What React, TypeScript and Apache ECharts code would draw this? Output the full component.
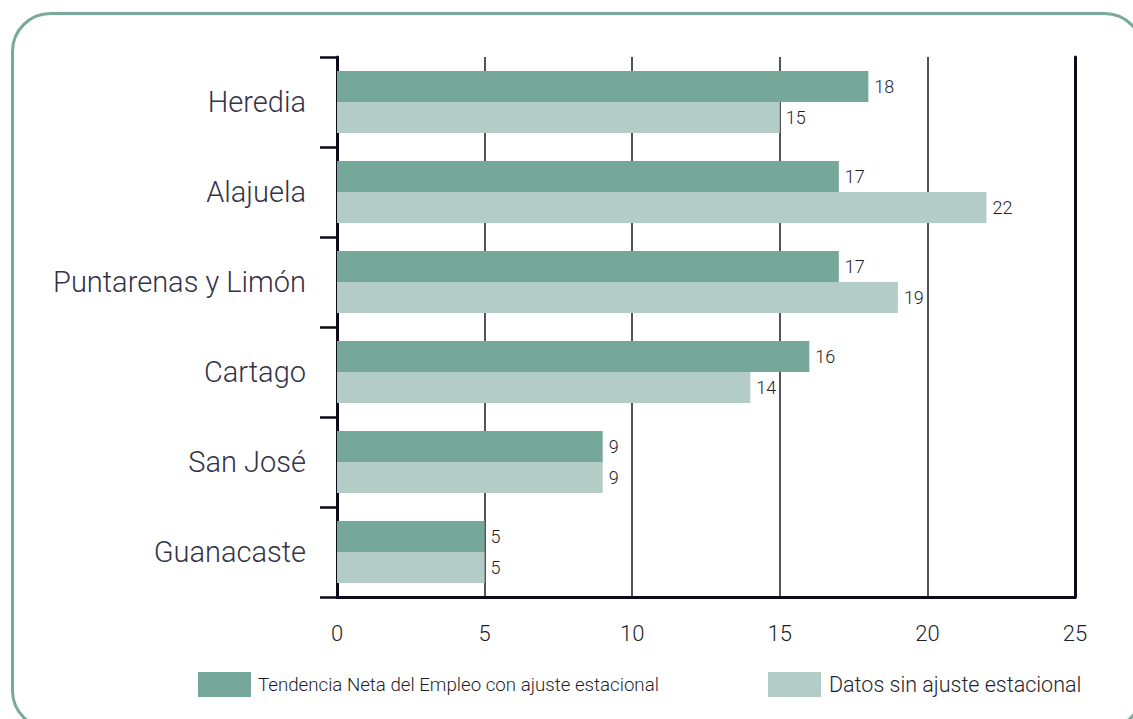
import React, { useEffect, useRef } from "react";
import * as echarts from "echarts";

const categories = ["Heredia", "Alajuela", "Puntarenas y Limón", "Cartago", "San José", "Guanacaste"];
const seriesNames = ["Tendencia Neta del Empleo con ajuste estacional", "Datos sin ajuste estacional"];
const adjusted = [18, 17, 17, 16, 9, 5];
const unadjusted = [15, 22, 19, 14, 9, 5];

const FONT = "Roboto, 'Liberation Sans', Arial, sans-serif";

export default function App() {
  const ref = useRef<HTMLDivElement>(null);
  useEffect(() => {
    const chart = echarts.init(ref.current!, null, { renderer: "svg" });
    const labelCfg = {
      show: true,
      position: "right" as const,
      distance: 6,
      fontSize: 18,
      fontWeight: 300,
      color: "#1e1e28",
      fontFamily: FONT,
    };
    const legendBase = {
      top: 672,
      padding: 0,
      itemWidth: 53,
      itemHeight: 25,
      icon: "rect",
    };
    chart.setOption({
      animation: false,
      backgroundColor: "#fff",
      textStyle: { fontFamily: FONT },
      graphic: [
        {
          type: "rect",
          shape: { x: 12.5, y: 13.5, width: 1130, height: 715, r: 38 },
          style: { fill: "none", stroke: "#78a99b", lineWidth: 3 },
          z: 0,
        },
      ],
      grid: { left: 337, right: 58, top: 57, bottom: 122, containLabel: false },
      legend: [
        {
          ...legendBase,
          left: 198,
          textStyle: { fontSize: 18.7, fontWeight: 300, color: "#1e1e2a", fontFamily: FONT, padding: [0, 0, 0, 2] },
          data: [seriesNames[0]],
        },
        {
          ...legendBase,
          left: 768,
          textStyle: { fontSize: 21.5, fontWeight: 300, color: "#1e1e2a", fontFamily: FONT, padding: [0, 0, 0, 3] },
          data: [seriesNames[1]],
        },
      ],
      xAxis: {
        type: "value",
        min: 0,
        max: 25,
        interval: 5,
        axisLine: { show: true, lineStyle: { color: "#0b0b1a", width: 3 } },
        axisTick: { show: false },
        axisLabel: { fontSize: 22, fontWeight: 300, color: "#1e1e28", margin: 25, fontFamily: FONT },
        splitLine: { show: true, lineStyle: { color: "#1a1a2a", width: 1.5 } },
      },
      yAxis: [
        {
          type: "category",
          data: categories,
          inverse: true,
          axisLine: { show: true, lineStyle: { color: "#0b0b1a", width: 3 } },
          axisTick: { show: true, length: 17, lineStyle: { color: "#0b0b1a", width: 2.5 } },
          axisLabel: { fontSize: 29, fontWeight: 300, color: "#33334a", margin: 31, fontFamily: FONT },
          splitLine: { show: false },
        },
        {
          type: "category",
          data: categories,
          inverse: true,
          position: "right",
          axisLine: { show: true, lineStyle: { color: "#0b0b1a", width: 3 } },
          axisTick: { show: false },
          axisLabel: { show: false },
          splitLine: { show: false },
        },
      ],
      series: [
        {
          name: seriesNames[0],
          type: "bar",
          data: adjusted,
          barWidth: 31,
          barGap: "0%",
          itemStyle: { color: "#76a89a" },
          label: labelCfg,
        },
        {
          name: seriesNames[1],
          type: "bar",
          data: unadjusted,
          barWidth: 31,
          barGap: "0%",
          itemStyle: { color: "#b3ccc5" },
          label: labelCfg,
        },
      ],
    });
    return () => chart.dispose();
  }, []);
  return (
    <div
      ref={ref}
      style={{ position: "absolute", left: 0, top: 0, width: 1133, height: 719 }}
    />
  );
}
